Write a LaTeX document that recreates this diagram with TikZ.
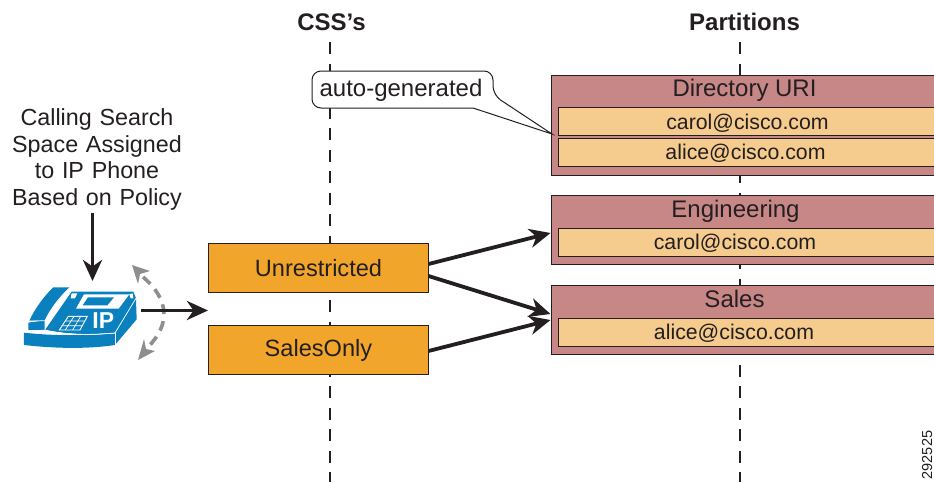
\documentclass[tikz,border=0pt]{standalone}
\usepackage{fontspec}
\setmainfont{Liberation Sans}
\usetikzlibrary{arrows.meta,calc}
\definecolor{orangebox}{HTML}{F2A52B}
\definecolor{rosebox}{HTML}{C88787}
\definecolor{peachbox}{HTML}{F5CB8E}
\definecolor{phoneblue}{HTML}{0A80BF}
\definecolor{inkblack}{HTML}{231F20}
\definecolor{arcgrey}{HTML}{8C8E90}
\tikzset{
  x=1pt,y=-1pt,
  lbl/.style={font=\fontsize{24}{28}\selectfont,text=inkblack,inner sep=0pt,align=center},
  head/.style={font=\fontsize{24}{28}\selectfont\bfseries,text=inkblack,inner sep=0pt},
  cssbox/.style={draw=inkblack,line width=1pt,fill=orangebox,inner sep=0pt,minimum width=220pt},
  partbox/.style={draw=inkblack,line width=1pt,fill=rosebox,inner sep=0pt,minimum width=389pt},
  addrbox/.style={draw=inkblack,line width=1pt,fill=peachbox,inner sep=0pt,minimum width=382pt},
  lane/.style={draw=inkblack,line width=2.4pt,dash pattern=on 12pt off 9.5pt},
  flow/.style={draw=inkblack,line width=3.8pt,-{Stealth[length=21pt,width=19pt,inset=6.5pt]}},
  swing/.style={draw=arcgrey,line width=3.6pt,dash pattern=on 10pt off 7pt},
  swingtip/.style={fill=arcgrey,draw=none},
  addr/.style={lbl,font=\fontsize{21.3}{25}\selectfont},
}
\begin{document}
\begin{tikzpicture}
\useasboundingbox (0,0) rectangle (934,482);
\clip (0,0) rectangle (934,482);
\fill[white] (0,0) rectangle (934,482);
% lanes
\coordinate (cssTop) at (330,42);
\coordinate (cssEnd) at (330,482);
\coordinate (parTop) at (740,42);
\coordinate (parEnd) at (740,482);
\draw[lane] (cssTop) -- (cssEnd);
\draw[lane] (parTop) -- (parEnd);
\node[head] (cssHead) at (331.5,22) {CSS’s};
\node[head] (parHead) at (744.5,22) {Partitions};
% css boxes
\node[cssbox,minimum height=49pt] (unres) at (318,267.5) {};
\node[cssbox,minimum height=49pt] (sales) at (318,349.5) {};
\node[lbl,font=\fontsize{23.6}{27}\selectfont] (tUn) at (318.5,268.5) {Unrestricted};
\node[lbl,font=\fontsize{23.6}{27}\selectfont] (tSo) at (318.5,350.5) {SalesOnly};
% partitions
\node[partbox,minimum height=100pt] (pDir) at (745.5,125) {};
\node[partbox,minimum height=69pt] (pEng) at (745.5,229.5) {};
\node[partbox,minimum height=69pt] (pSal) at (745.5,319.5) {};
\node[lbl] (tDir) at (744.5,90.5) {Directory URI};
\node[lbl] (tEng) at (735.5,211) {Engineering};
\node[lbl] (tSal) at (734.5,299) {Sales};
\node[addrbox,minimum height=28pt] (a1) at (749,121) {};
\node[addrbox,minimum height=28pt] (a2) at (749,152) {};
\node[addrbox,minimum height=28pt] (a3) at (749,242) {};
\node[addrbox,minimum height=28pt] (a4) at (749,332) {};
\node[addr] (t1) at (747.5,123) {carol@cisco.com};
\node[addr] (t2) at (745.5,153) {alice@cisco.com};
\node[addr] (t3) at (735,243) {carol@cisco.com};
\node[addr] (t4) at (734,333) {alice@cisco.com};
% callout
\coordinate (tip) at (552,134);
\draw[draw=inkblack,line width=1pt,fill=white,rounded corners=9pt]
  (312,71) -- (493,71) -- (493,95) [sharp corners] -- (tip) -- (473,108) [rounded corners=9pt] -- (312,108) -- cycle;
\node[lbl] (auto) at (401,90.5) {auto-generated};
% left label
\node[lbl,text width=200pt,font=\fontsize{23.3}{26.7}\selectfont] (policy) at (97,159.5) {Calling Search\\Space Assigned\\to IP Phone\\Based on Policy};
% phone
\begin{scope}[shift={(0,230)},x=0.3333pt,y=-0.3333pt]
  \fill[phoneblue] (72,308) .. controls (160,318) and (260,318) .. (345,310) -- (345,345) .. controls (260,358) and (160,355) .. (72,345) -- cycle;
  \fill[phoneblue] (345,310) -- (408,205) -- (410,268) -- (345,345) -- cycle;
  \fill[phoneblue] (135,300) -- (215,185) -- (400,185) -- (408,205) -- (345,308) .. controls (260,316) and (200,312) .. (135,300) -- cycle;
  \fill[white] (215,190) -- (232,190) -- (225,205) -- (212,205) -- cycle;
  \fill[phoneblue] (85,300) -- (85,278) -- (135,270) -- (135,300) -- cycle;
  \fill[phoneblue] (88,272) .. controls (105,235) and (135,195) .. (160,172) -- (210,172) .. controls (175,205) and (150,240) .. (135,272) -- cycle;
  \draw[white,line width=0.7pt] (135,298) -- (135,272) .. controls (150,240) and (175,205) .. (210,172);
  \draw[white,line width=0.7pt] (85,274) -- (135,272);
  \draw[white,line width=0.7pt] (72,306) -- (135,300) .. controls (200,315) and (260,316) .. (345,309) -- (408,205);
  \draw[white,line width=0.7pt] (345,309) -- (345,345);
  \fill[white] (228,236) -- (252,193) -- (388,193) -- (356,236) -- cycle;
  \fill[phoneblue] (248,226) -- (264,202) -- (342,202) -- (322,226) -- cycle;
  \fill[white] (388,193) -- (398,190) -- (400,205) -- (392,205) -- cycle;
  \draw[white,line width=0.9pt] (178,300) -- (205,259) -- (262,259) -- (240,300) -- cycle;
  \draw[white,line width=0.7pt] (187,287) -- (249,287) (196,273) -- (256,273)
    (196,300) -- (222,259) (218,300) -- (242,259);
  \node[font=\fontsize{23}{27}\selectfont\bfseries,text=white,inner sep=0pt] (ip) at (310,273) {IP};
\end{scope}
% swing arc
\coordinate (arcA) at (143,277);
\coordinate (arcB) at (148,347);
\draw[swing] (arcA) .. controls (170,300) and (170,325) .. (arcB);
\fill[swingtip] (132,265) -- (150,271) -- (140,274) -- (138,284) -- cycle;
\fill[swingtip] (138,360) -- (155,351) -- (146,349) -- (144,339) -- cycle;
% arrows
\coordinate (dn0) at (92.5,213);
\coordinate (dn1) at (92.5,281);
\coordinate (ph0) at (141,310.5);
\coordinate (ph1) at (208,310.5);
\draw[flow] (dn0) -- (dn1);
\draw[flow] (ph0) -- (ph1);
\draw[flow] ($(unres.east)+(0,-3.5)$) -- ($(pEng.west)+(0,3.5)$);
\draw[flow] ($(unres.east)+(0,8.5)$) -- ($(pSal.west)+(0,-5.5)$);
\draw[flow] ($(sales.east)+(0,1.5)$) -- ($(pSal.west)+(0,0.5)$);
% id
\node[font=\fontsize{14.5}{17}\selectfont,text=inkblack,rotate=90,inner sep=0pt] (code) at (927,455) {292525};
\end{tikzpicture}
\end{document}
